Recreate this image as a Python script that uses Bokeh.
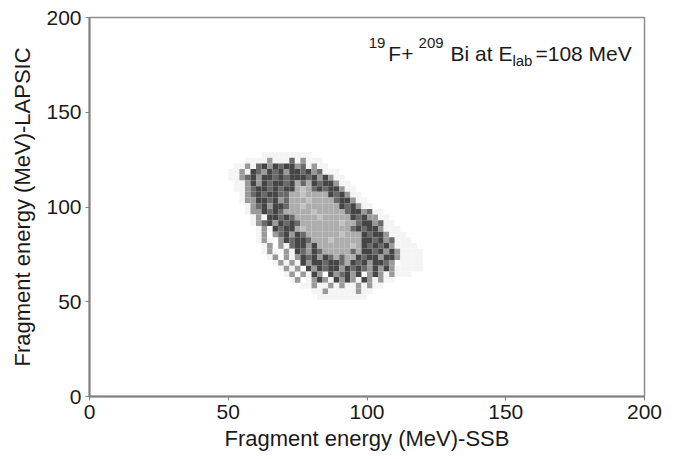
from bokeh.plotting import figure
from bokeh.models import Range1d, Label, FixedTicker, ColumnDataSource
from bokeh.embed import file_html
from bokeh.resources import INLINE

# ---- data: 2D histogram of fragment energies ----
# columns: SSB energy bins of 2 MeV starting at 46 MeV
# rows: LAPSIC energy bins of 3 MeV, top row starts at 129 MeV (going down)
x_bin_start = 46
x_bin_width = 2
y_bin_top = 129
y_bin_height = 3
# count level per cell:
# ' ' none, '.' very few, ':' sparse, '+' medium, '#' ring (dark), 'o' core, '-' core peak
density_map = [
    "        .........",
    "     ....:...+.:...",
    "   ..:.+#:#+##:+.:..",
    "  ..:.#+:#+#:##+#:+...",
    "  ..:+#:##+#+###+#:#:..",
    "   ..:#:#+##+#o+o#+##:..",
    "   ..:+##+#+##o-o+#+##:..",
    "    .:+#+##++oo-oooo#+#:..",
    "    .::##+#:+ooo-oooo+##:..",
    "     .:+#:##+oo-oooooo#+#:..",
    "     .::#+#+ooooo-ooooo+##:+..",
    "      .:.##+#+oooo-ooooo#+#::..",
    "      .:+#:#+#+ooooooo-oo+##:+..",
    "       .:.#+##o-oooooooo+#+##:...",
    "       .: :+#:#+oooooo-ooo#+##:...",
    "       .:. :#+##+ooo-ooooo##+#:+...",
    "        .: :.+##:#oooooo-o#+#+#:....",
    "        .:. :.#+:#+ooooo+o##+#:#:....",
    "         .: :.:#+#:#+o+oo#+##:##:....",
    "          .:.:.#:##+##+o#+#:##+: ....",
    "           .:.: #:#+##:#+#+:#:#:.....",
    "            .: :.#: #:+#:# :#:.:...",
    "             .: .:#:.#:#:.#:.:..",
    "               ..:..:.:..:.:..",
    "                 ..:.....:..",
    "                  .........",
]
level_colors = {".": "#f4f4f4", ":": "#9a9a9a", "+": "#6a6a6a",
                "#": "#454545", "o": "#adadad", "-": "#c2c2c2"}

x_ticks = [0, 50, 100, 150, 200]
y_ticks = [0, 50, 100, 150, 200]

# ---- build cells ----
xs, ys, cols = [], [], []
for j, row in enumerate(density_map):
    for i, ch in enumerate(row):
        if ch in level_colors:
            xs.append(x_bin_start + x_bin_width * i + x_bin_width / 2)
            ys.append(y_bin_top - y_bin_height * j - y_bin_height / 2)
            cols.append(level_colors[ch])
src = ColumnDataSource(dict(x=xs, y=ys, c=cols))

p = figure(width=680, height=459, output_backend="svg", toolbar_location=None,
           x_range=Range1d(0, 200), y_range=Range1d(0, 200),
           min_border_left=89, min_border_right=36, min_border_top=17,
           min_border_bottom=63)
p.background_fill_color = "white"
p.border_fill_color = "white"
p.xgrid.visible = False
p.ygrid.visible = False
p.outline_line_color = "#8c8c8c"
p.outline_line_width = 1.5

p.rect(x="x", y="y", width=x_bin_width, height=y_bin_height, source=src,
       fill_color="c", line_color=None)

for ax in (p.xaxis[0], p.yaxis[0]):
    ax.axis_line_color = "#808080"
    ax.axis_line_width = 2
    ax.major_tick_line_color = "#808080"
    ax.major_tick_in = 0
    ax.major_tick_out = 4
    ax.minor_tick_line_color = None
    ax.major_label_text_font = "Liberation Sans"
    ax.major_label_text_font_size = "21px"
    ax.major_label_text_color = "#1a1a1a"
    ax.axis_label_text_font = "Liberation Sans"
    ax.axis_label_text_font_size = "22px"
    ax.axis_label_text_font_style = "normal"
    ax.axis_label_text_color = "#1a1a1a"
p.xaxis.ticker = FixedTicker(ticks=x_ticks)
p.yaxis.ticker = FixedTicker(ticks=y_ticks)
p.xaxis.axis_label = "Fragment energy (MeV)-SSB"
p.yaxis.axis_label = "Fragment energy (MeV)-LAPSIC"
p.xaxis.major_label_standoff = 4
p.xaxis.axis_label_standoff = 4
p.yaxis.major_label_standoff = 4
p.yaxis.axis_label_standoff = 8

# ---- reaction label with super/subscripts ----
font = "Liberation Sans"
pieces = [
    ("19", 100.6, 186.3, "15px"),
    ("F+", 107.7, 181.0, "21px"),
    ("209", 118.6, 186.3, "15px"),
    ("Bi at E", 130.1, 181.0, "21px"),
    ("lab", 152.4, 177.3, "15px"),
    ("=108 MeV", 160.7, 181.0, "21px"),
]
for txt, x, y, fs in pieces:
    p.add_layout(Label(x=x, y=y, text=txt, text_font=font, text_font_size=fs,
                       text_color="#1a1a1a", text_align="left",
                       text_baseline="alphabetic"))

open("out.html", "w").write(file_html(p, INLINE))
